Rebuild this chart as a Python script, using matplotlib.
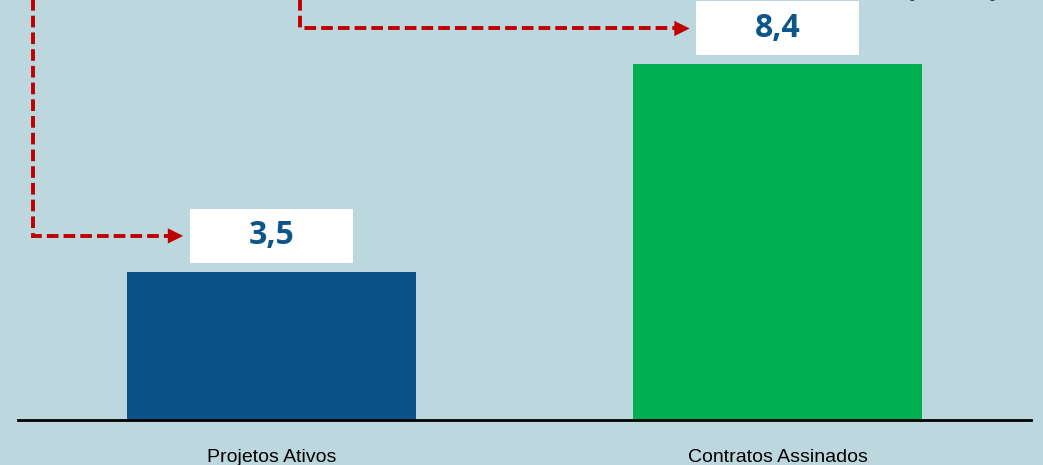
import matplotlib.pyplot as plt
from matplotlib.patches import Rectangle

categories = ['Projetos Ativos', 'Contratos Assinados']
values = [3.5, 8.4]
value_labels = ['3,5', '8,4']
bar_colors = ['#0A5288', '#00B050']

bg = '#BDD7DE'
red = '#C00000'
txt_blue = '#0C5689'

fig = plt.figure(figsize=(10.43, 4.65), dpi=100)
fig.patch.set_facecolor(bg)
ax = fig.add_axes([18 / 1043, 45 / 465, 1013 / 1043, 420 / 465])
ax.set_facecolor(bg)

x = list(range(len(categories)))
ax.bar(x, values, width=0.57, color=bar_colors, zorder=2)
ax.set_xlim(-0.5, 1.5)
ax.set_ylim(0, 9.92)

for s in ['top', 'right', 'left']:
    ax.spines[s].set_visible(False)
ax.spines['bottom'].set_linewidth(2)
ax.spines['bottom'].set_color('black')
ax.set_yticks([])
ax.set_xticks(x)
ax.set_xticklabels(categories, family=['Liberation Sans Narrow', 'Liberation Sans'],
                   fontsize=14, color='black')
ax.tick_params(axis='x', length=0, pad=21)

# value boxes
box_w, box_h = 0.322, 1.275
for xi, v, lab in zip(x, values, value_labels):
    ax.add_patch(Rectangle((xi - box_w / 2, v + 0.21), box_w, box_h,
                           facecolor='white', edgecolor='none', zorder=3,
                           clip_on=False))
    ax.text(xi, v + 0.21 + box_h / 2, lab, ha='center', va='center',
            fontsize=23, fontweight='bold', color=txt_blue,
            family=['Open Sans', 'DejaVu Sans'], zorder=4)

# red dashed connectors
starts = [-0.47, 0.057]
for xs, xi, v in zip(starts, x, values):
    yl = v + 0.21 + box_h / 2
    ax.plot([xs, xs, xi - box_w / 2 - 0.03], [10.5, yl, yl], color=red,
            lw=2.8, ls=(0, (3, 1.3)), clip_on=False, zorder=3,
            dash_joinstyle='miter', dash_capstyle='butt')
    ax.annotate('', xy=(xi - box_w / 2 - 0.013, yl),
                xytext=(xi - box_w / 2 - 0.05, yl),
                arrowprops=dict(arrowstyle='-|>,head_length=1.1,head_width=0.55',
                                color=red, lw=0, shrinkA=0, shrinkB=0),
                annotation_clip=False, zorder=4)

# clipped title remnant at the top right
fig.text(952 / 1043, 1 + 4 / 465, '(R$ bi)', ha='center', va='baseline',
         fontsize=22, fontweight='bold', color=txt_blue,
         family=['Open Sans', 'DejaVu Sans'])

fig.savefig('out.png', dpi=100, facecolor=bg)
